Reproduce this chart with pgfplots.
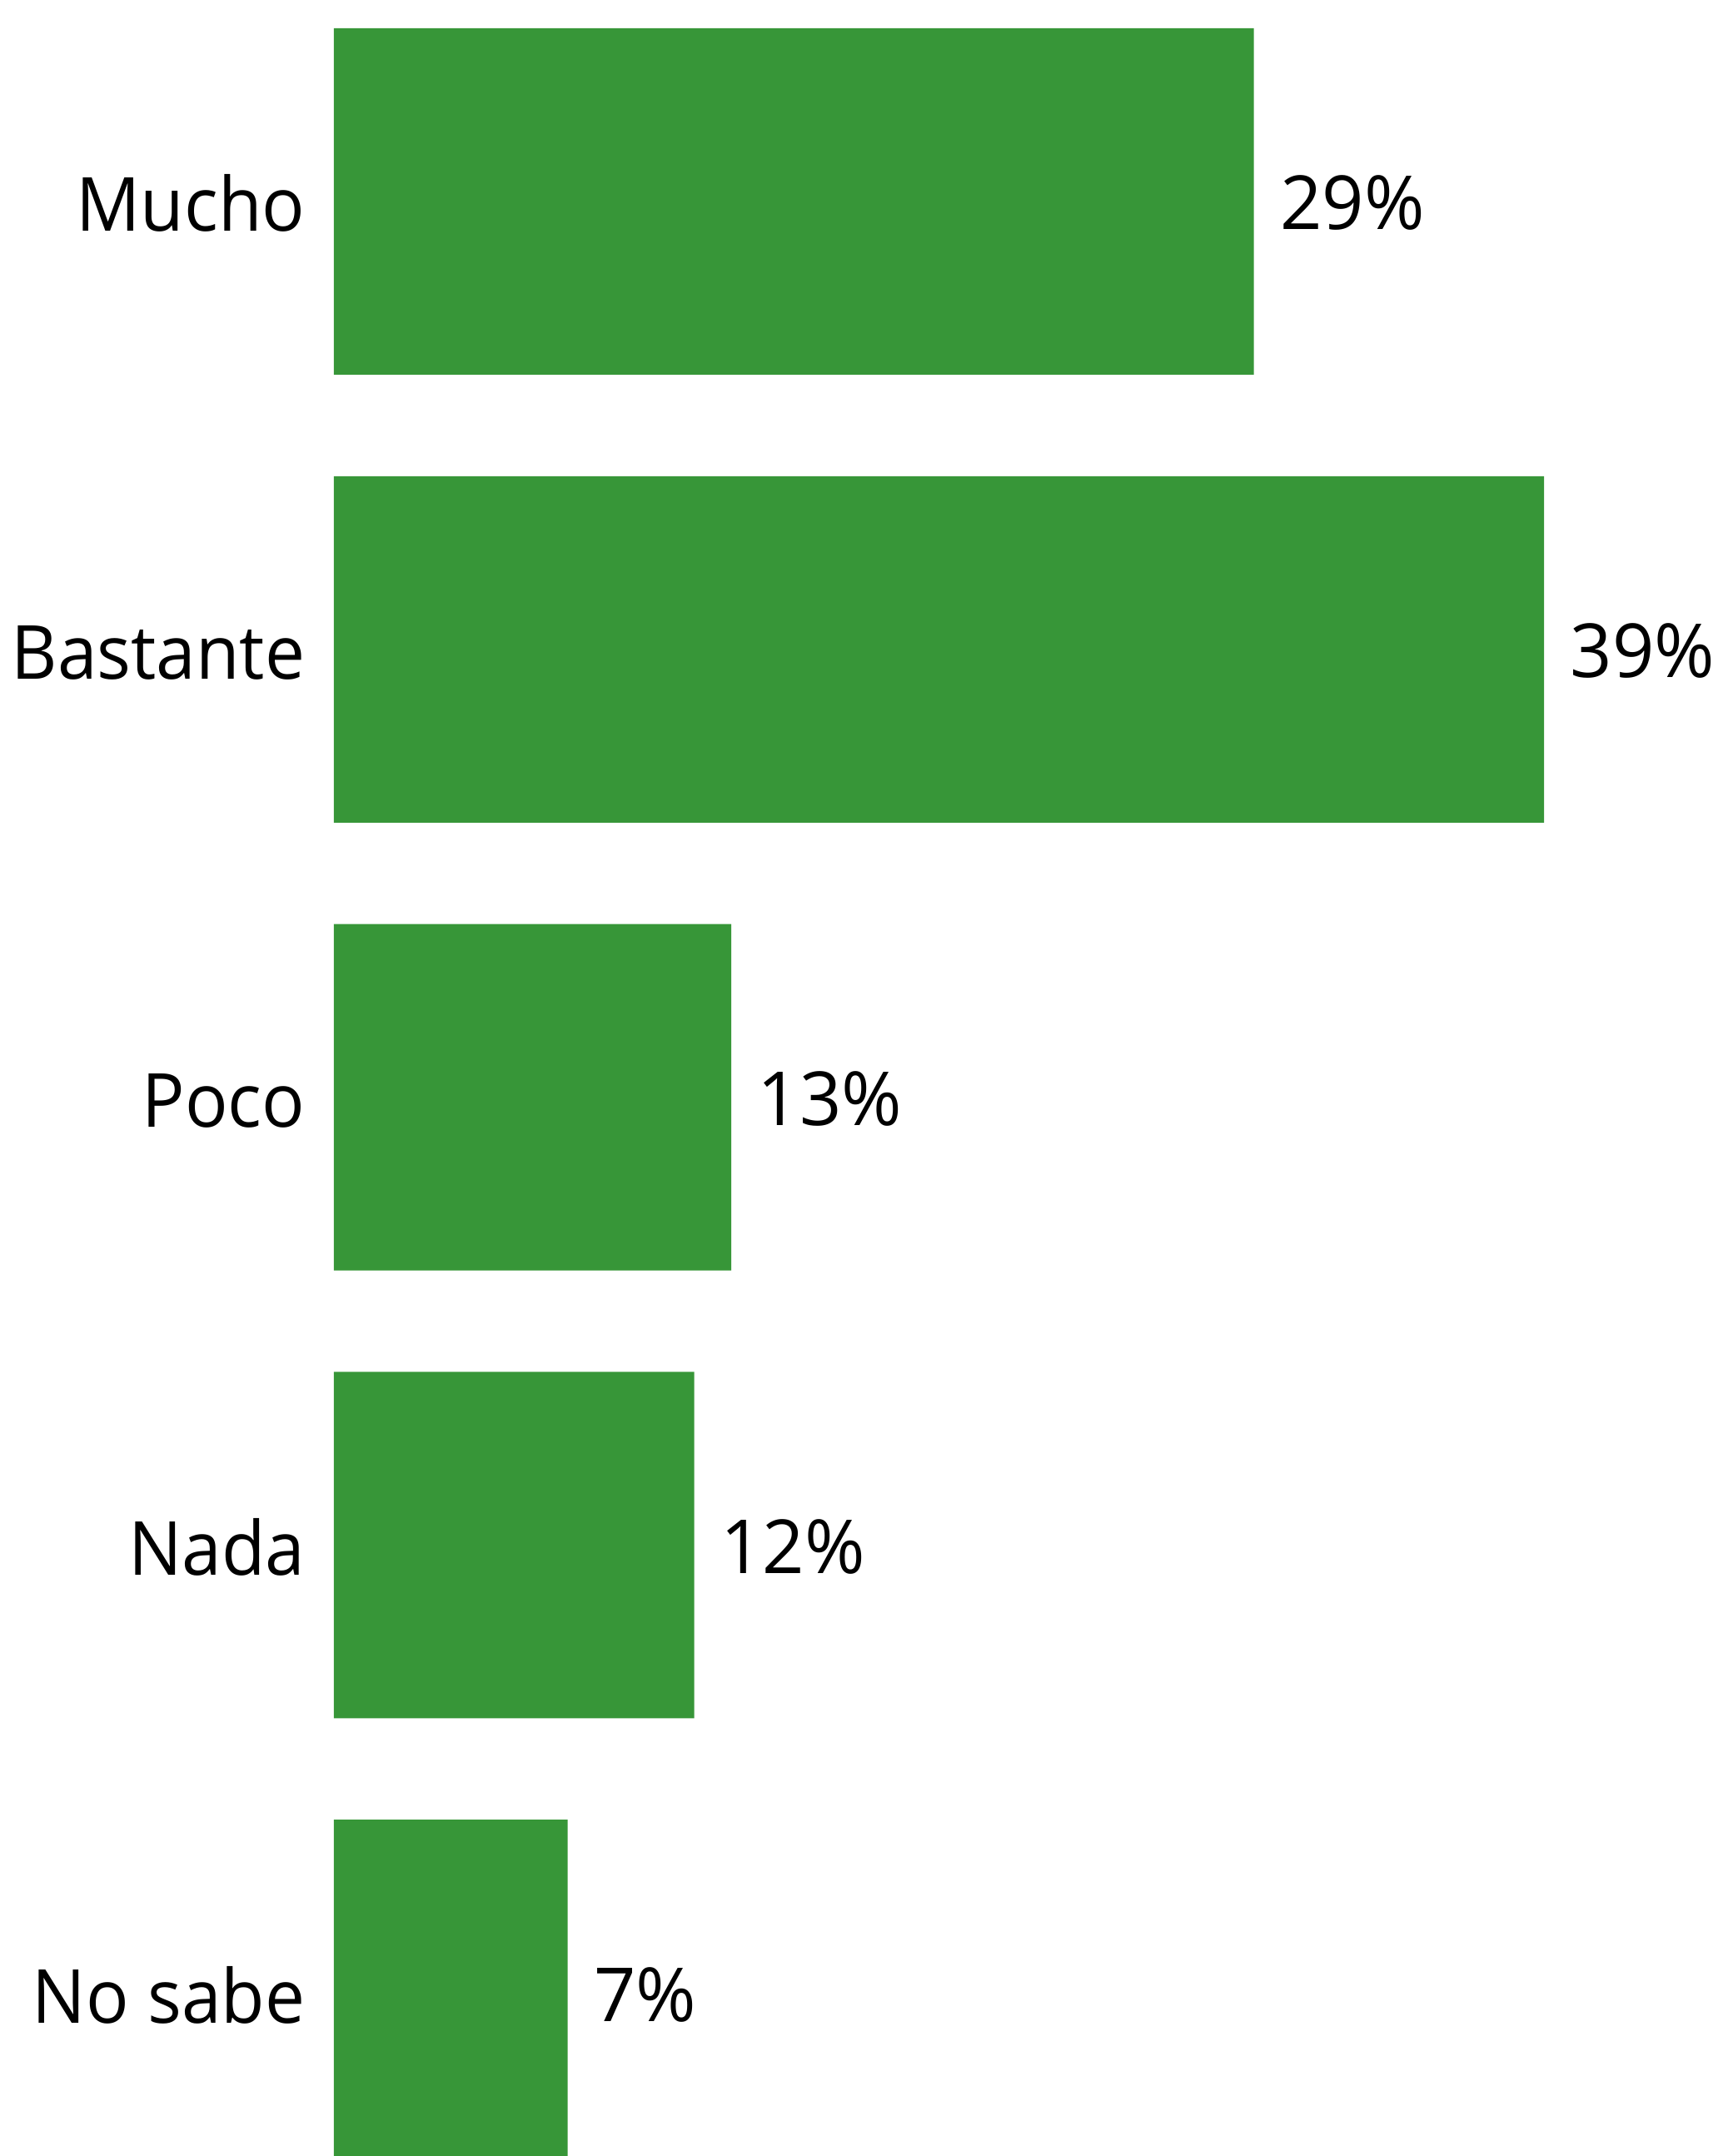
\documentclass[border=0pt]{standalone}
\usepackage{pgfplots}
\pgfplotsset{compat=1.18}
\usepackage{fontspec}
\setmainfont{Open Sans}[FakeStretch=0.955]
\newfontfamily\pctfont{Open Sans}[FakeStretch=0.985]
\definecolor{bargreen}{RGB}{55,150,56}
\begin{document}
\begin{tikzpicture}
\begin{axis}[
  x=9.3825pt, y=134.45pt,
  y dir=reverse,
  xmin=0, xmax=44, ymin=-0.6, ymax=4.6,
  axis line style={draw=none},
  major tick length=0pt,
  xtick=\empty,
  ytick={0,1,2,3,4},
  yticklabels={Mucho,Bastante,Poco,Nada,No sabe},
  yticklabel style={font=\fontsize{22.4pt}{27pt}\selectfont, anchor=base east, inner sep=0pt, xshift=-8.5pt, yshift=-9pt},
  xbar,
  bar width=0.7735,
  point meta=explicit symbolic,
  nodes near coords,
  every node near coord/.append style={font=\pctfont\fontsize{22.4pt}{27pt}\selectfont, anchor=base west, inner sep=0pt, xshift=7.7pt, yshift=-8.5pt, text=black},
  clip=false,
]
\addplot[fill=bargreen, draw=none] coordinates {
  (29.43,0) [29\%]
  (38.72,1) [39\%]
  (12.71,2) [13\%]
  (11.53,3) [12\%]
  (7.48,4) [7\%]
};
\coordinate (o) at (axis cs:0,0);
\end{axis}
\pgfresetboundingbox
\path (o) ++(-100.25pt,60.5pt) rectangle ++(518.75pt,-647.25pt);
\end{tikzpicture}
\end{document}
